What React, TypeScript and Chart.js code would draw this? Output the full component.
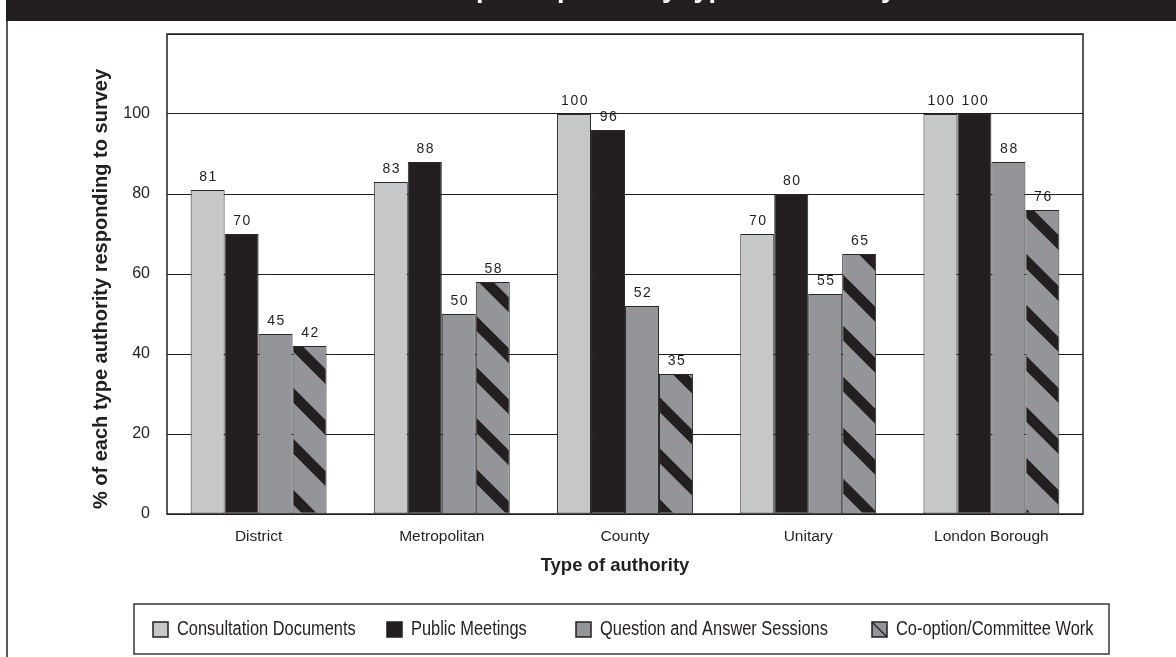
import React, { useEffect, useRef } from "react";
import { Chart, registerables } from "chart.js";

Chart.register(...registerables);

// ---- data ----
const categories = ["District", "Metropolitan", "County", "Unitary", "London Borough"];
const seriesNames = [
  "Consultation Documents",
  "Public Meetings",
  "Question and Answer Sessions",
  "Co-option/Committee Work",
];
const consultationDocuments = [81, 83, 100, 70, 100];
const publicMeetings = [70, 88, 96, 80, 100];
const questionAndAnswer = [45, 50, 52, 55, 88];
const coOptionCommittee = [42, 58, 35, 65, 76];
const yTicks = [0, 20, 40, 60, 80, 100];
const yMax = 120;

const titleText = "Traditional methods of participation by type of authority";
const xTitle = "Type of authority";
const yTitle = "% of each type authority responding to survey";

// ---- styling ----
const W = 1176;
const H = 657;
const INK = "#231f20";
const LIGHT = "#c6c7c9";
const MID = "#939598";
const EDGE = "#2b2829";
const SANS = "'Liberation Sans', Arial, Helvetica, sans-serif";

// legend layout (marker left edges); text is drawn horizontally condensed
const legendMarkerX = [153, 387, 576, 872];
const legendBox = { left: 134, top: 604, right: 1109, bottom: 654 };
const legendSqueeze = 0.82;

function makeHatch(): CanvasPattern | string {
  const s = 51;
  const c = document.createElement("canvas");
  c.width = s;
  c.height = s;
  const g = c.getContext("2d");
  if (!g) return MID;
  g.fillStyle = MID;
  g.fillRect(0, 0, s, s);
  g.strokeStyle = INK;
  g.lineWidth = 10.5;
  for (const off of [-s, 0, s]) {
    g.beginPath();
    g.moveTo(off - 12, -12);
    g.lineTo(off + s + 12, s + 12);
    g.stroke();
  }
  const p = g.createPattern(c, "repeat");
  return p || MID;
}

const decorPlugin = {
  id: "decor",
  afterDatasetsDraw(chart: any) {
    const ctx: CanvasRenderingContext2D = chart.ctx;
    const { left, right, top, bottom } = chart.chartArea;

    // plot frame
    ctx.save();
    ctx.strokeStyle = INK;
    ctx.lineWidth = 1.5;
    ctx.strokeRect(left, top, right - left, bottom - top);
    ctx.restore();

    // value labels above bars
    ctx.save();
    ctx.fillStyle = INK;
    ctx.font = `14px ${SANS}`;
    (ctx as any).letterSpacing = "1.5px";
    ctx.textAlign = "center";
    ctx.textBaseline = "alphabetic";
    chart.data.datasets.forEach((ds: any, i: number) => {
      const meta = chart.getDatasetMeta(i);
      meta.data.forEach((el: any, j: number) => {
        const v = ds.data[j];
        ctx.fillText(String(v), el.x + 1, el.y - 9);
      });
    });
    ctx.restore();
  },
  afterDraw(chart: any) {
    const ctx: CanvasRenderingContext2D = chart.ctx;

    // header band with title
    ctx.save();
    ctx.fillStyle = INK;
    ctx.fillRect(6, 0, W - 6, 21);
    ctx.fillStyle = "#ffffff";
    ctx.font = `bold 27px ${SANS}`;
    ctx.textAlign = "left";
    ctx.textBaseline = "alphabetic";
    const prefix = titleText.slice(0, titleText.indexOf("participation"));
    const startX = 476 - ctx.measureText(prefix).width;
    ctx.fillText(titleText, startX, -3);
    ctx.restore();

    // left page rule
    ctx.save();
    ctx.strokeStyle = INK;
    ctx.lineWidth = 1.5;
    ctx.beginPath();
    ctx.moveTo(7, 0);
    ctx.lineTo(7, H);
    ctx.stroke();
    ctx.restore();

    // axis titles
    ctx.save();
    ctx.fillStyle = INK;
    ctx.textAlign = "center";
    ctx.textBaseline = "middle";
    ctx.font = `bold 18.5px ${SANS}`;
    ctx.fillText(xTitle, 615, 566);
    ctx.translate(101, 289);
    ctx.rotate(-Math.PI / 2);
    ctx.font = `bold 20px ${SANS}`;
    ctx.fillText(yTitle, 0, 0);
    ctx.restore();

    // legend
    ctx.save();
    ctx.strokeStyle = "#3a3738";
    ctx.lineWidth = 1.5;
    ctx.strokeRect(
      legendBox.left,
      legendBox.top,
      legendBox.right - legendBox.left,
      legendBox.bottom - legendBox.top
    );
    const midY = (legendBox.top + legendBox.bottom) / 2 + 0.5;
    const size = 15;
    chart.data.datasets.forEach((ds: any, i: number) => {
      const x = legendMarkerX[i];
      const y = midY - size / 2;
      if (i === 3) {
        ctx.fillStyle = MID;
        ctx.fillRect(x, y, size, size);
        ctx.strokeStyle = INK;
        ctx.lineWidth = 1.2;
        ctx.beginPath();
        ctx.moveTo(x, y);
        ctx.lineTo(x + size, y + size);
        ctx.stroke();
      } else {
        ctx.fillStyle = ds.backgroundColor;
        ctx.fillRect(x, y, size, size);
      }
      ctx.strokeStyle = INK;
      ctx.lineWidth = 1.5;
      ctx.strokeRect(x, y, size, size);

      ctx.save();
      ctx.translate(x + 24, midY);
      ctx.scale(legendSqueeze, 1);
      ctx.fillStyle = INK;
      ctx.font = `20px ${SANS}`;
      ctx.textAlign = "left";
      ctx.textBaseline = "middle";
      ctx.fillText(ds.label, 0, 0);
      ctx.restore();
    });
    ctx.restore();
  },
};

export default function App() {
  const canvasRef = useRef<HTMLCanvasElement | null>(null);

  useEffect(() => {
    const canvas = canvasRef.current;
    if (!canvas) return;
    const hatch = makeHatch();
    const values = [consultationDocuments, publicMeetings, questionAndAnswer, coOptionCommittee];
    const fills: any[] = [LIGHT, INK, MID, hatch];

    const chart = new Chart(canvas, {
      type: "bar",
      data: {
        labels: categories,
        datasets: values.map((data, i) => ({
          label: seriesNames[i],
          data,
          backgroundColor: fills[i],
          borderColor: EDGE,
          borderWidth: 1,
          borderSkipped: false,
        })),
      },
      options: {
        responsive: false,
        animation: false,
        devicePixelRatio: 1,
        layout: { padding: { left: 0, top: 34, right: 93, bottom: 0 } },
        datasets: { bar: { categoryPercentage: 0.742, barPercentage: 1 } },
        plugins: {
          legend: { display: false },
          title: { display: false },
          tooltip: { enabled: false },
        },
        scales: {
          x: {
            grid: { display: false, drawTicks: false },
            border: { display: false },
            ticks: { color: INK, font: { family: SANS, size: 15.5 }, padding: 13 },
            afterFit: (s: any) => {
              s.height = 143;
            },
          },
          y: {
            min: 0,
            max: yMax,
            afterBuildTicks: (s: any) => {
              s.ticks = [...yTicks, yMax].map((v) => ({ value: v }));
            },
            grid: { color: INK, lineWidth: 1, drawTicks: false },
            border: { display: false },
            ticks: {
              color: INK,
              font: { family: SANS, size: 16 },
              padding: 17,
              callback: (v: any) => (yTicks.includes(Number(v)) ? String(v) : ""),
            },
            afterFit: (s: any) => {
              s.width = 167;
            },
          },
        },
      },
      plugins: [decorPlugin],
    });

    return () => chart.destroy();
  }, []);

  return (
    <div style={{ position: "fixed", left: 0, top: 0, width: W, height: H, background: "#ffffff" }}>
      <canvas ref={canvasRef} width={W} height={H} style={{ display: "block" }} />
    </div>
  );
}
